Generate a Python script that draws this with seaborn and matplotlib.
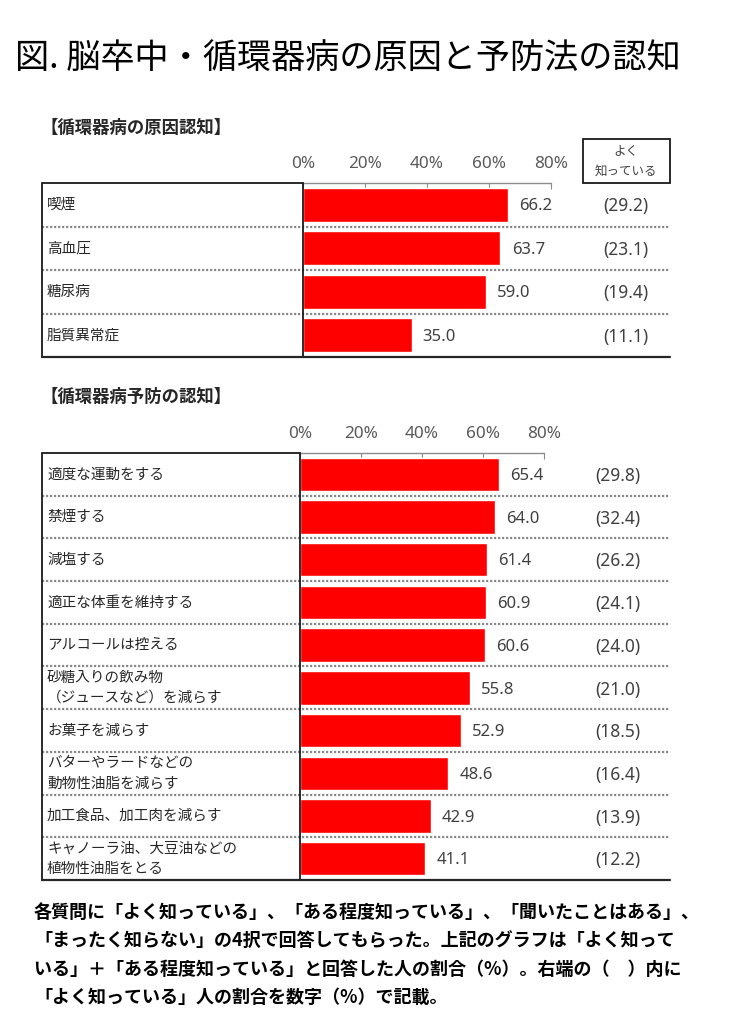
import matplotlib
matplotlib.use("Agg")
import matplotlib.pyplot as plt
from matplotlib.patches import Rectangle
import seaborn as sns
import pandas as pd

# 循環器病の原因認知
cause_items = ["喫煙", "高血圧", "糖尿病", "脂質異常症"]
cause_known = [66.2, 63.7, 59.0, 35.0]
cause_well = [29.2, 23.1, 19.4, 11.1]

# 循環器病予防の認知
prev_items = [
    "適度な運動をする",
    "禁煙する",
    "減塩する",
    "適正な体重を維持する",
    "アルコールは控える",
    "砂糖入りの飲み物\n（ジュースなど）を減らす",
    "お菓子を減らす",
    "バターやラードなどの\n動物性油脂を減らす",
    "加工食品、加工肉を減らす",
    "キャノーラ油、大豆油などの\n植物性油脂をとる",
]
prev_known = [65.4, 64.0, 61.4, 60.9, 60.6, 55.8, 52.9, 48.6, 42.9, 41.1]
prev_well = [29.8, 32.4, 26.2, 24.1, 24.0, 21.0, 18.5, 16.4, 13.9, 12.2]

ticks = [0, 20, 40, 60, 80]
tick_labels = ["0%", "20%", "40%", "60%", "80%"]

sns.set_style("white")
plt.rcParams["font.family"] = ["Noto Sans CJK JP", "DejaVu Sans"]
NUM_FONT = ["Noto Sans", "DejaVu Sans"]

W, H = 731, 1024
fig = plt.figure(figsize=(W / 100, H / 100), dpi=100)
fig.patch.set_facecolor("white")


def fx(px):
    return px / W


def fy(py):
    return 1 - py / H


def draw_panel(items, known, well, left, right, top, bottom, zero_px, px_per_pct):
    ax = fig.add_axes([fx(left), fy(bottom), fx(right - left), (bottom - top) / H])
    df = pd.DataFrame({"item": items, "value": known})
    sns.barplot(data=df, x="value", y="item", orient="h", color="#FF0000",
                saturation=1, width=0.78, ax=ax)
    n = len(items)
    xmin = -(zero_px - left) / px_per_pct
    xmax = (right - zero_px) / px_per_pct
    ax.set_xlim(xmin, xmax)
    ax.set_ylim(n - 0.5, -0.5)
    for s in ax.spines.values():
        s.set_visible(False)
    ax.set_xlabel("")
    ax.set_ylabel("")
    ax.set_yticks([])
    ax.xaxis.tick_top()
    ax.set_xticks(ticks)
    ax.set_xticklabels(tick_labels, family=NUM_FONT)
    ax.tick_params(axis="x", direction="in", length=4, width=0.8, color="#8c8c8c",
                   pad=8, labelsize=12.3, labelcolor="#595959")

    # axis line
    ax.plot([0, 80], [-0.5, -0.5], color="#8c8c8c", lw=1.0, clip_on=False, zorder=3)
    # label box
    ax.add_patch(Rectangle((xmin, -0.5), -xmin, n, fill=False, ec="#1a1a1a",
                           lw=1.3, clip_on=False, zorder=4))
    # row separators
    for i in range(n - 1):
        ax.plot([xmin, xmax], [i + 0.5, i + 0.5], color="#8a8a8a", lw=1.6,
                ls=(0, (1, 0.8)), clip_on=False, zorder=2)
    ax.plot([xmin, xmax], [n - 0.5, n - 0.5], color="#262626", lw=1.6,
            clip_on=False, zorder=4)

    for i, (lab, v, w) in enumerate(zip(items, known, well)):
        ax.text(xmin + 5 / px_per_pct, i, lab, va="center", ha="left",
                fontsize=10.5, color="#262626", linespacing=1.55)
        ax.text(v + 3.6, i + 0.04, f"{v:.1f}", va="center", ha="left",
                fontsize=12, color="#404040", family=NUM_FONT)
        ax.text(104.2, i + 0.04, f"({w:.1f})", va="center", ha="center",
                fontsize=12.5, color="#404040", family=NUM_FONT)
    return ax


draw_panel(cause_items, cause_known, cause_well, 42, 670, 183, 357, 303, 3.1)
draw_panel(prev_items, prev_known, prev_well, 42, 670, 453, 880, 300, 3.05)

# titles
fig.text(fx(15), fy(58), "図. 脳卒中・循環器病の原因と予防法の認知", fontsize=24.6,
         ha="left", va="center", color="black", fontweight="normal")
fig.text(fx(40), fy(128), "【循環器病の原因認知】", fontsize=12.5, fontweight="bold",
         ha="left", va="center", color="#262626")
fig.text(fx(40), fy(397), "【循環器病予防の認知】", fontsize=12.5, fontweight="bold",
         ha="left", va="center", color="#262626")

# header box
fig.add_artist(Rectangle((fx(583), fy(183)), fx(670 - 583), (183 - 139) / H,
                         fill=False, ec="#1a1a1a", lw=1.3, transform=fig.transFigure))
fig.text(fx(626), fy(151), "よく", fontsize=9, ha="center", va="center", color="#404040")
fig.text(fx(626), fy(171), "知っている", fontsize=9, ha="center", va="center",
         color="#404040")

# footnote
notes = [
    "各質問に「よく知っている」、「ある程度知っている」、「聞いたことはある」、",
    "「まったく知らない」の4択で回答してもらった。上記のグラフは「よく知って",
    "いる」＋「ある程度知っている」と回答した人の割合（%）。右端の（　）内に",
    "「よく知っている」人の割合を数字（%）で記載。",
]
for k, line in enumerate(notes):
    fig.text(fx(34), fy(912 + k * 28.5), line, fontsize=13, fontweight="bold",
             ha="left", va="center", color="black")

fig.savefig("out.png", dpi=100, facecolor="white")
